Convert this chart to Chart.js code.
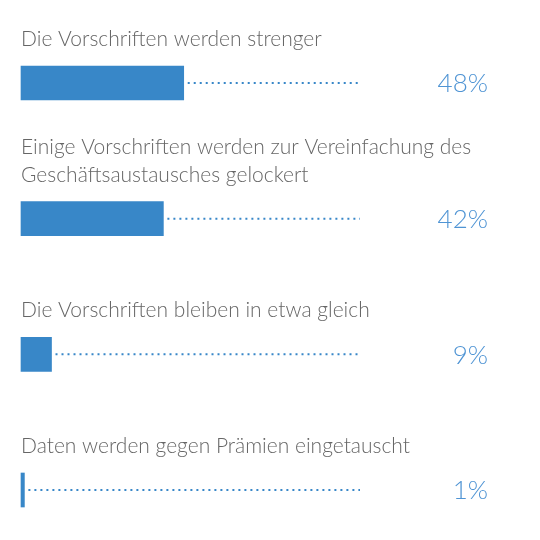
<!DOCTYPE html>
<html>
<head>
<meta charset="utf-8">
<script src="https://cdn.jsdelivr.net/npm/chart.js@4.4.0/dist/chart.umd.min.js"></script>
<style>
  html, body { margin: 0; padding: 0; background: #fff; }
  #wrap { width: 540px; height: 540px; position: relative; }
</style>
</head>
<body>
<div id="wrap"><canvas id="chart"></canvas></div>
<script>
// answers and their shares (%)
const answers = [
  ['Die Vorschriften werden strenger'],
  ['Einige Vorschriften werden zur Vereinfachung des', 'Geschäftsaustausches gelockert'],
  ['Die Vorschriften bleiben in etwa gleich'],
  ['Daten werden gegen Prämien eingetauscht']
];
const shares = [48, 42, 9, 1];
const total = 100;

const blue = '#3887c8';
const textGrey = '#666666';
const pctBlue = '#4f94d4';

// text over each bar, dotted rest up to 100 %, percent on the right
const barDecor = {
  id: 'barDecor',
  afterDatasetsDraw(chart) {
    const ctx = chart.ctx;
    const x = chart.scales.x;
    const meta = chart.getDatasetMeta(0);
    meta.data.forEach((bar, i) => {
      const top = bar.y - bar.height / 2;
      ctx.save();

      // label lines above the bar
      ctx.fillStyle = textGrey;
      ctx.font = '300 21px Lato, "Open Sans", sans-serif';
      ctx.textAlign = 'left';
      ctx.textBaseline = 'alphabetic';
      const lines = answers[i];
      lines.forEach((ln, k) => {
        ctx.fillText(ln, x.left, top - 20 - (lines.length - 1 - k) * 28);
      });

      // dotted remainder
      ctx.strokeStyle = blue;
      ctx.lineWidth = 2;
      ctx.setLineDash([2, 4]);
      ctx.beginPath();
      ctx.moveTo(bar.x + 4, bar.y);
      ctx.lineTo(x.getPixelForValue(total), bar.y);
      ctx.stroke();
      ctx.setLineDash([]);

      // percent value
      ctx.fillStyle = pctBlue;
      ctx.font = '300 26px Lato, "Open Sans", sans-serif';
      ctx.textAlign = 'right';
      ctx.textBaseline = 'middle';
      ctx.fillText(shares[i] + '%', chart.width - 52, bar.y + 1);
      ctx.restore();
    });
  }
};

new Chart(document.getElementById('chart').getContext('2d'), {
  type: 'bar',
  data: {
    labels: answers.map(a => a.join(' ')),
    datasets: [{
      data: shares,
      backgroundColor: blue,
      borderWidth: 0,
      barThickness: 34,
      clip: false
    }]
  },
  options: {
    indexAxis: 'y',
    responsive: true,
    maintainAspectRatio: false,
    animation: false,
    layout: { padding: { left: 21, right: 180, top: 83, bottom: 50 } },
    scales: {
      x: { display: false, min: 0, max: total },
      y: { display: false, offset: false }
    },
    plugins: {
      legend: { display: false },
      tooltip: { enabled: false }
    }
  },
  plugins: [barDecor]
});
</script>
</body>
</html>
